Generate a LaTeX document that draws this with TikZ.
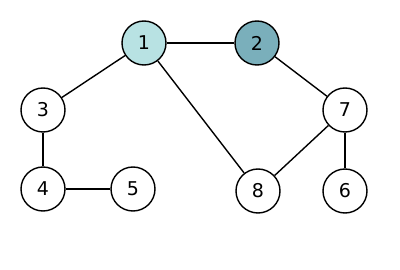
\documentclass[tikz,border=0pt]{standalone}
\usepackage{fontspec}
\setmainfont{DejaVu Sans}
\definecolor{lightteal}{HTML}{B8E2E3}
\definecolor{darkteal}{HTML}{7AAFBB}
\begin{document}
\begin{tikzpicture}[x=1pt,y=-1pt,
  vertex/.style={circle,draw=black,line width=1.4pt,minimum size=44pt,inner sep=0pt,fill=white,font=\fontsize{19}{19}\selectfont},
  edge/.style={line width=1.4pt,black}]
\useasboundingbox (0,0) rectangle (400,270);
\node[vertex,fill=lightteal] (n1) at (144,43) {1};
\node[vertex,fill=darkteal] (n2) at (257,43) {2};
\node[vertex] (n3) at (43,110) {3};
\node[vertex] (n4) at (43,189) {4};
\node[vertex] (n5) at (133,189) {5};
\node[vertex] (n7) at (345,110) {7};
\node[vertex] (n8) at (258,191) {8};
\node[vertex] (n6) at (345,191) {6};
\draw[edge] (n1) -- (n2);
\draw[edge] (n1) -- (n3);
\draw[edge] (n1) -- (n8);
\draw[edge] (n2) -- (n7);
\draw[edge] (n3) -- (n4);
\draw[edge] (n4) -- (n5);
\draw[edge] (n7) -- (n8);
\draw[edge] (n7) -- (n6);
\end{tikzpicture}
\end{document}
